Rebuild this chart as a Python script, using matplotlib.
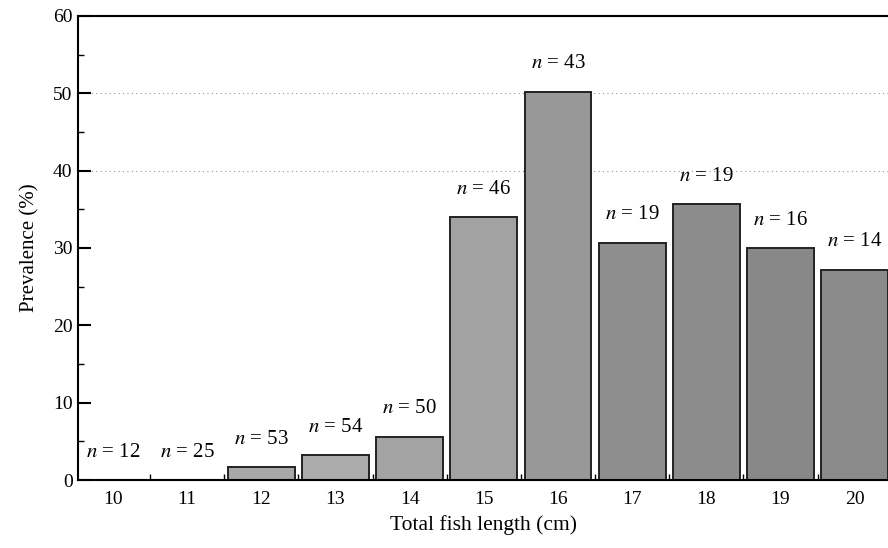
import matplotlib.pyplot as plt
from matplotlib.ticker import MultipleLocator

# Data
lengths = [10, 11, 12, 13, 14, 15, 16, 17, 18, 19, 20]
prevalence = [0, 0, 1.7, 3.2, 5.6, 34.0, 50.2, 30.7, 35.7, 30.0, 27.2]
sample_n = [12, 25, 53, 54, 50, 46, 43, 19, 19, 16, 14]
bar_grey = ['#b0b0b0', '#b0b0b0', '#a8a8a8', '#acacac', '#a4a4a4',
            '#a2a2a2', '#989898', '#8e8e8e', '#8c8c8c', '#888888', '#8a8a8a']

plt.rcParams['font.family'] = ['Liberation Serif', 'DejaVu Serif']
plt.rcParams['mathtext.fontset'] = 'stix'

fig = plt.figure(figsize=(8.88, 5.48), dpi=100)
ax = fig.add_axes([0.088, 0.124, 0.912, 0.847])

# faint dotted guide lines
for yv in [40, 50]:
    ax.axhline(yv, color='#909090', lw=0.8, ls=(0, (1, 3)), zorder=0)

ax.bar(lengths, prevalence, width=0.9, color=bar_grey,
       edgecolor='#222222', linewidth=1.4, zorder=2)

for x, y, n in zip(lengths, prevalence, sample_n):
    ax.annotate(f'$n$ = {n}', (x, y), xytext=(0, 20), textcoords='offset points',
                ha='center', va='center', fontsize=15, annotation_clip=False)

ax.set_xlim(9.53, 20.45)
ax.set_ylim(0, 60)
ax.set_xticks(lengths)
ax.set_xticks([v + 0.5 for v in lengths[:-1]], minor=True)
ax.yaxis.set_major_locator(MultipleLocator(10))
ax.yaxis.set_minor_locator(MultipleLocator(5))
ax.tick_params(axis='y', which='major', direction='in', length=9, width=1.5,
               labelsize=14, pad=4)
ax.tick_params(axis='y', which='minor', direction='in', length=4, width=1)
ax.tick_params(axis='x', which='major', length=0, labelsize=14, pad=8)
ax.tick_params(axis='x', which='minor', direction='in', length=4, width=1)

ax.spines['right'].set_visible(False)
for s in ['left', 'bottom', 'top']:
    ax.spines[s].set_linewidth(1.5)

ax.set_xlabel('Total fish length (cm)', fontsize=15.5, labelpad=5)
ax.set_ylabel('Prevalence (%)', fontsize=15, labelpad=10)

fig.savefig('out.png', dpi=100)
